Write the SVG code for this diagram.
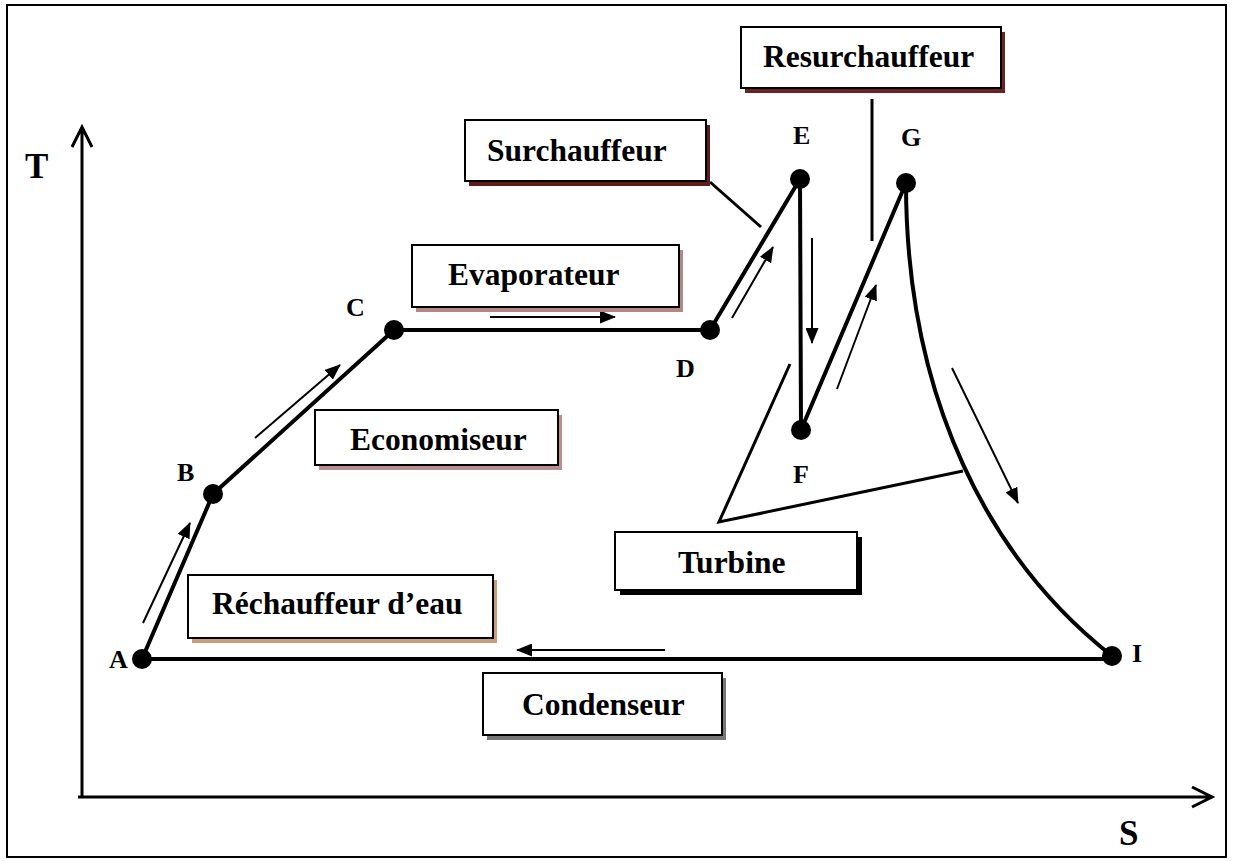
<svg xmlns="http://www.w3.org/2000/svg" width="1233" height="861" viewBox="0 0 1233 861">
  <style>
    .frame { fill: none; stroke: #000; stroke-width: 2; }
    .axis { fill: none; stroke: #000; stroke-width: 3; }
    .path { fill: none; stroke: #000; stroke-width: 4; stroke-linecap: round; }
    .flow { fill: none; stroke: #000; stroke-width: 2; }
    .lead { fill: none; stroke: #000; stroke-width: 3; }
    .dot { fill: #000; }
    .box { fill: #fff; stroke: #000; stroke-width: 2; }
    .lbl { font-family: "Liberation Serif", "Times New Roman", serif; font-weight: bold; font-size: 31.5px; fill: #000; }
    .pt { font-family: "Liberation Serif", "Times New Roman", serif; font-weight: bold; font-size: 26px; fill: #000; }
    .ax { font-family: "Liberation Serif", "Times New Roman", serif; font-weight: bold; font-size: 35px; fill: #000; }
  </style>
  <defs>
    <marker id="head" viewBox="0 0 16 13" refX="15" refY="6.5" markerWidth="16" markerHeight="13" markerUnits="userSpaceOnUse" orient="auto">
      <path d="M0,0 L16,6.5 L0,13 Z" fill="#000"/>
    </marker>
  </defs>

  <rect class="frame" x="7" y="5" width="1219" height="852" fill="#fff"/>

  <!-- axes -->
  <g id="axes">
    <path class="axis" d="M82,797 V127 M72,147 L82,127 L92,147"/>
    <path class="axis" d="M78,797 H1212 M1192,787 L1212,797 L1192,807"/>
    <text class="ax" x="25" y="178">T</text>
    <text class="ax" x="1119" y="845">S</text>
  </g>

  <!-- cycle path, flow arrows and leader lines -->
  <g id="connectors">
    <path class="path" d="M142,659 L213,494 L394,330 L710,330 L800,179 L801,430 L906,183"/>
    <path class="path" d="M906,183 C906,400 990,560 1112,656"/>
    <path class="path" d="M142,659 H1112"/>

    <line class="flow" x1="143" y1="623" x2="190" y2="523" marker-end="url(#head)"/>
    <line class="flow" x1="255" y1="438" x2="340" y2="365" marker-end="url(#head)"/>
    <line class="flow" x1="490" y1="317" x2="615" y2="317" marker-end="url(#head)"/>
    <line class="flow" x1="732" y1="318" x2="773" y2="247" marker-end="url(#head)"/>
    <line class="flow" x1="812" y1="238" x2="812" y2="343" marker-end="url(#head)"/>
    <line class="flow" x1="837" y1="389" x2="876" y2="285" marker-end="url(#head)"/>
    <line class="flow" x1="952" y1="368" x2="1018" y2="503" marker-end="url(#head)"/>
    <line class="flow" x1="665" y1="650" x2="517" y2="650" marker-end="url(#head)"/>

    <line class="lead" x1="710" y1="182" x2="761" y2="227"/>
    <line class="lead" x1="872" y1="99" x2="872" y2="241"/>
    <path class="lead" d="M790,364 L719,522 L963,471"/>
  </g>

  <!-- state points -->
  <g id="point-A"><circle class="dot" cx="142" cy="659" r="10"/><text class="pt" x="109" y="668">A</text></g>
  <g id="point-B"><circle class="dot" cx="213" cy="494" r="10"/><text class="pt" x="177" y="481">B</text></g>
  <g id="point-C"><circle class="dot" cx="394" cy="330" r="10"/><text class="pt" x="346" y="316">C</text></g>
  <g id="point-D"><circle class="dot" cx="710" cy="330" r="10"/><text class="pt" x="676" y="377">D</text></g>
  <g id="point-E"><circle class="dot" cx="800" cy="179" r="10"/><text class="pt" x="793" y="144">E</text></g>
  <g id="point-F"><circle class="dot" cx="801" cy="430" r="10"/><text class="pt" x="793" y="483">F</text></g>
  <g id="point-G"><circle class="dot" cx="906" cy="183" r="10"/><text class="pt" x="901" y="146">G</text></g>
  <g id="point-I"><circle class="dot" cx="1112" cy="656" r="10"/><text class="pt" x="1132" y="662">I</text></g>

  <!-- labelled boxes with drop shadows -->
  <g id="surchauffeur">
    <rect x="469" y="125" width="241" height="61" fill="#5e1c1c"/>
    <rect class="box" x="465" y="120" width="241" height="61"/>
    <text class="lbl" x="487" y="161">Surchauffeur</text>
  </g>
  <g id="resurchauffeur">
    <rect x="745" y="32" width="260" height="61" fill="#6a2222"/>
    <rect class="box" x="741" y="27" width="260" height="61"/>
    <text class="lbl" x="763" y="67">Resurchauffeur</text>
  </g>
  <g id="evaporateur">
    <rect x="416" y="250" width="267" height="62" fill="#b08888"/>
    <rect class="box" x="412" y="245" width="267" height="62"/>
    <text class="lbl" x="448" y="285">Evaporateur</text>
  </g>
  <g id="economiseur">
    <rect x="319" y="415" width="243" height="55" fill="#b88e8e"/>
    <rect class="box" x="315" y="410" width="243" height="55"/>
    <text class="lbl" x="350" y="450">Economiseur</text>
  </g>
  <g id="rechauffeur">
    <rect x="192" y="580" width="305" height="63" fill="#c99c7c"/>
    <rect class="box" x="188" y="575" width="305" height="63"/>
    <text class="lbl" x="212" y="614">Réchauffeur d’eau</text>
  </g>
  <g id="turbine">
    <rect x="620" y="537" width="242" height="58" fill="#000"/>
    <rect class="box" x="615" y="532" width="242" height="58"/>
    <text class="lbl" x="678" y="573">Turbine</text>
  </g>
  <g id="condenseur">
    <rect x="487" y="678" width="239" height="62" fill="#777"/>
    <rect class="box" x="483" y="673" width="239" height="62"/>
    <text class="lbl" x="522" y="715">Condenseur</text>
  </g>
</svg>
